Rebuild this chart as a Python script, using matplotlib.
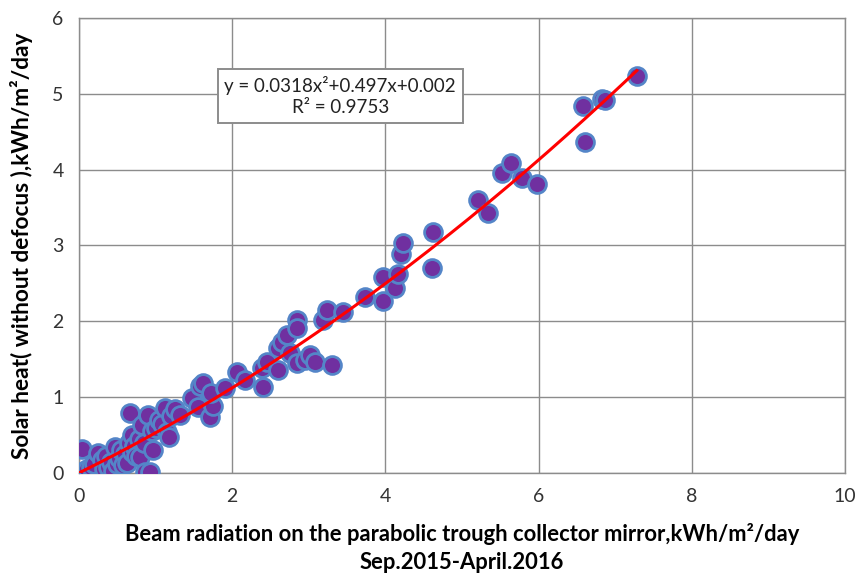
import matplotlib
matplotlib.use("Agg")
import matplotlib.pyplot as plt
import numpy as np

plt.rcParams['font.family'] = ['Lato', 'DejaVu Sans']

# Daily beam radiation (kWh/m2/day) and delivered solar heat (kWh/m2/day)
beam = [0.00, 0.02, 0.05, 0.04, 0.10, 0.15, 0.20, 0.25, 0.30, 0.32, 0.35, 0.38,
        0.42, 0.45, 0.47, 0.50, 0.52, 0.55, 0.58, 0.60, 0.63, 0.65, 0.67, 0.69,
        0.69, 0.72, 0.75, 0.78, 0.80, 0.82, 0.85, 0.86, 0.90, 0.93, 0.95, 0.97,
        1.00, 1.05, 1.08, 1.12, 1.15, 1.17, 1.20, 1.25, 1.32, 1.48, 1.55, 1.58,
        1.62, 1.71, 1.75, 1.72, 1.91, 2.06, 2.17, 2.40, 2.39, 2.45, 2.60, 2.60,
        2.65, 2.72, 2.75, 2.85, 2.85, 2.85, 2.95, 3.02, 3.08, 3.19, 3.24, 3.30,
        3.45, 3.73, 3.97, 3.97, 4.12, 4.16, 4.20, 4.23, 4.61, 4.62, 5.21, 5.34,
        5.52, 5.64, 5.78, 5.98, 6.58, 6.61, 6.83, 6.87, 7.28]
heat = [0.00, 0.02, 0.00, 0.32, 0.05, 0.08, 0.12, 0.26, 0.17, 0.05, 0.22, 0.08,
        0.15, 0.03, 0.34, 0.12, 0.20, 0.30, 0.10, 0.25, 0.13, 0.40, 0.79, 0.50,
        0.28, 0.35, 0.22, 0.45, 0.21, 0.63, 0.40, 0.01, 0.77, 0.01, 0.55, 0.30,
        0.60, 0.70, 0.65, 0.86, 0.54, 0.47, 0.75, 0.84, 0.77, 0.99, 0.87, 1.15,
        1.19, 0.74, 0.88, 1.05, 1.12, 1.33, 1.23, 1.13, 1.39, 1.46, 1.36, 1.65,
        1.73, 1.82, 1.58, 2.02, 1.91, 1.45, 1.49, 1.56, 1.47, 2.02, 2.15, 1.42,
        2.12, 2.32, 2.59, 2.27, 2.44, 2.62, 2.89, 3.03, 2.70, 3.18, 3.60, 3.43,
        3.96, 4.09, 3.89, 3.81, 4.84, 4.37, 4.93, 4.92, 5.24]

# Quadratic trendline coefficients and fit quality
coef = [0.0318, 0.497, 0.002]
r_squared = 0.9753

x_ticks = [0, 2, 4, 6, 8, 10]
y_ticks = [0, 1, 2, 3, 4, 5, 6]

fig = plt.figure(figsize=(8.56, 5.79), dpi=100)
ax = fig.add_axes([0.0923, 0.183, 0.895, 0.786])

ax.scatter(beam, heat, s=165, facecolor='#7030A0', edgecolor='#5485C8',
           linewidths=2.0, zorder=3)

xf = np.linspace(0, max(beam), 200)
ax.plot(xf, np.polyval(coef, xf), color='#FF0000', lw=2.2, zorder=4)

ax.set_xlim(0, 10)
ax.set_ylim(0, 6)
ax.set_xticks(x_ticks)
ax.set_yticks(y_ticks)
ax.grid(True, color='#8C8C8C', lw=1.0, zorder=0)
ax.set_axisbelow(True)
for sp in ax.spines.values():
    sp.set_color('#8C8C8C')
    sp.set_linewidth(1.0)
ax.tick_params(length=0, pad=11, labelsize=14, colors='#333333')

eq = (f"y = {coef[0]}x²+{coef[1]}x+{coef[2]:.3f}\n"
      f"R² = {r_squared}")
ax.text(3.41, 4.97, eq, ha='center', va='center',
        fontsize=13.5, color='#222222', linespacing=1.3, zorder=5,
        bbox=dict(boxstyle='square,pad=0.35', facecolor='white',
                  edgecolor='#8C8C8C', lw=1.4))

ax.set_ylabel("Solar heat( without defocus ),kWh/m²/day", fontsize=16.3,
              fontweight='bold', labelpad=14)
ax.set_xlabel("Beam radiation on the parabolic trough collector mirror,kWh/m²/day\n"
              "Sep.2015-April.2016", fontsize=15.8, fontweight='bold',
              labelpad=13, linespacing=1.4)

fig.savefig("out.png", dpi=100)
